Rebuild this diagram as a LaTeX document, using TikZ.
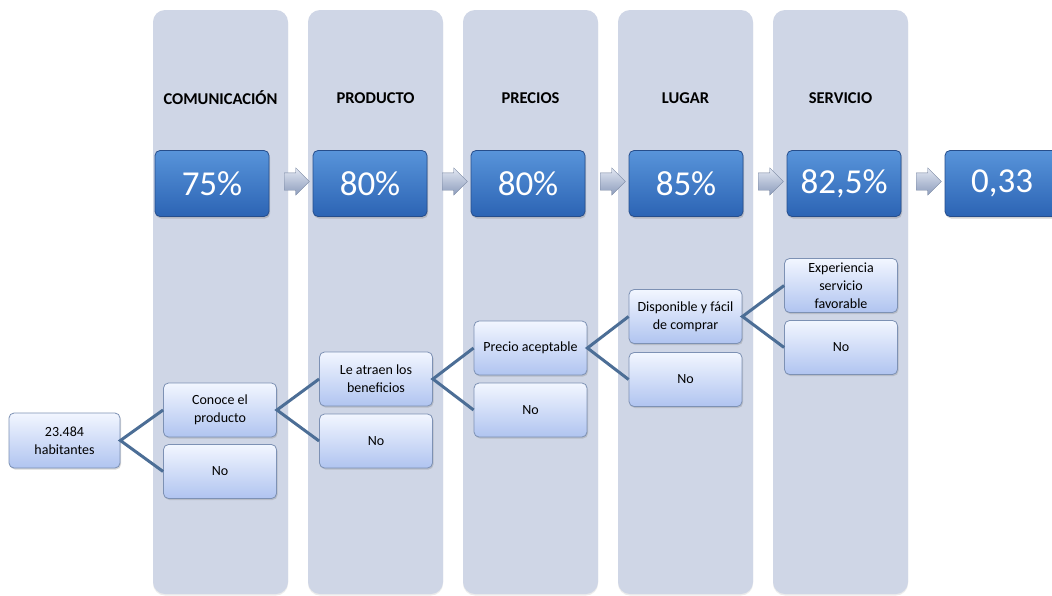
\documentclass[tikz,border=0pt]{standalone}
\usepackage{fontspec}
\setmainfont{Carlito}
\usetikzlibrary{shadows,shapes.arrows}

\definecolor{colfill}{RGB}{207,214,230}
\definecolor{boxtop}{RGB}{242,246,255}
\definecolor{boxbot}{RGB}{176,196,240}
\definecolor{boxline}{RGB}{125,145,180}
\definecolor{pcttop}{RGB}{88,148,218}
\definecolor{pctbot}{RGB}{44,100,180}
\definecolor{pctline}{RGB}{38,78,140}
\definecolor{connline}{RGB}{76,110,150}
\definecolor{arrtop}{RGB}{226,231,242}
\definecolor{arrbot}{RGB}{140,156,188}

\tikzset{
  column/.style={fill=colfill, rounded corners=12pt, minimum width=135pt,
    minimum height=584pt, inner sep=0pt,
    drop shadow={opacity=0.15, shadow xshift=0pt, shadow yshift=-1.5pt}},
  header/.style={font=\fontsize{16.5}{18}\selectfont\bfseries, text=black},
  pctbox/.style={draw=pctline, line width=0.8pt, rounded corners=5pt,
    top color=pcttop, bottom color=pctbot, minimum width=114pt,
    minimum height=66pt, inner sep=0pt, text=white,
    font=\fontsize{35}{40}\selectfont,
    drop shadow={opacity=0.35, shadow xshift=1pt, shadow yshift=-2pt}},
  flowarrow/.style={shape=single arrow, minimum height=25pt,
    inner xsep=0pt, inner ysep=8.5pt, single arrow head extend=5pt,
    single arrow head indent=0pt,
    top color=arrtop, bottom color=arrbot, draw=arrbot!85!black, line width=0.3pt},
  stepbox/.style={draw=boxline, line width=0.8pt, rounded corners=5pt,
    top color=boxtop, bottom color=boxbot, minimum width=113pt,
    minimum height=54pt, inner sep=2pt, align=center, text=black,
    font=\fontsize{14}{18}\selectfont,
    drop shadow={opacity=0.3, shadow xshift=1pt, shadow yshift=-1.5pt}},
  conn/.style={draw=connline, line width=3pt}
}

\begin{document}
\begin{tikzpicture}[x=1pt,y=-1pt]
\useasboundingbox (0,0) rectangle (1052,595);
\clip (0,0) rectangle (1052,595);
\fill[white] (0,0) rectangle (1052,595);

% stage columns with their headings
\foreach \i/\t in {0/COMUNICACIÓN,1/PRODUCTO,2/PRECIOS,3/LUGAR,4/SERVICIO}{
  \node[column] (col\i) at (220.5+155*\i,302) {};
  \node[header] (h\i) at (220.5+155*\i,98) {\t};
}

% percentage chain
\foreach \i/\v in {0/75\%,1/80\%,2/80\%,3/85\%,4/{82,5\%},5/{0,33}}{
  \node[pctbox] (p\i) at (212+158*\i,183.5) {\v};
}
\foreach \i in {0,...,4}{
  \node[flowarrow] (a\i) at (292.5+158*\i,181.5) {};
}

% decision tree
\node[stepbox, minimum width=111pt, minimum height=55pt] (hab) at (64.5,440.5) {23.484\\habitantes};

\node[stepbox] (c1y) at (220,410) {Conoce el\\producto};
\node[stepbox] (c1n) at (220,471.5) {No};

\node[stepbox] (c2y) at (376,379) {Le atraen los\\beneficios};
\node[stepbox] (c2n) at (376,441) {No};

\node[stepbox] (c3y) at (530.5,348) {Precio aceptable};
\node[stepbox] (c3n) at (530.5,410) {No};

\node[stepbox] (c4y) at (685.5,316.5) {Disponible y fácil\\de comprar};
\node[stepbox] (c4n) at (685.5,379.5) {No};

\node[stepbox] (c5y) at (841,285.5) {Experiencia\\servicio\\favorable};
\node[stepbox] (c5n) at (841,347.5) {No};

\draw[conn] (c1y.west) -- (hab.east) -- (c1n.west);
\draw[conn] (c2y.west) -- (c1y.east) -- (c2n.west);
\draw[conn] (c3y.west) -- (c2y.east) -- (c3n.west);
\draw[conn] (c4y.west) -- (c3y.east) -- (c4n.west);
\draw[conn] (c5y.west) -- (c4y.east) -- (c5n.west);
\end{tikzpicture}
\end{document}
